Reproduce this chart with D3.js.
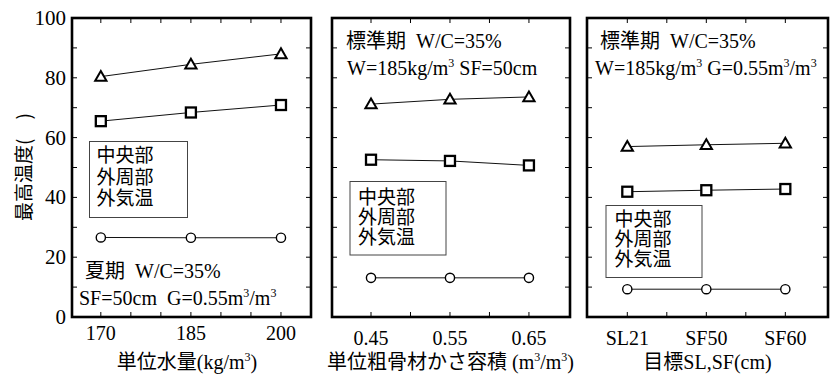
<!DOCTYPE html>
<html><head><meta charset="utf-8">
<script src="https://cdn.jsdelivr.net/npm/d3@7"></script>
<style>
body{margin:0;background:#fff}
.sf{font-family:"Liberation Serif","Times New Roman",Tinos,"DejaVu Serif",serif}
.cj{font-family:"Noto Sans CJK JP","Noto Sans CJK SC",sans-serif}
</style>
</head><body><svg id="c" width="835" height="374"></svg>
<script>
// ---------- data ----------
const seriesNames = ["中央部", "外周部", "外気温"];
const seriesSymbols = ["triangle", "square", "circle"];

// Panel 1: 単位水量
const p1X = [170, 185, 200];
const p1Center = [80.4, 84.5, 88.0];
const p1Outer = [65.5, 68.4, 70.9];
const p1Air = [26.6, 26.5, 26.5];
const p1MinorTicks = [170, 175, 180, 185, 190, 195, 200];
const p1TickLabels = ["170", "185", "200"];

// Panel 2: 単位粗骨材かさ容積
const p2X = [0.45, 0.55, 0.65];
const p2Center = [71.2, 72.8, 73.6];
const p2Outer = [52.6, 52.2, 50.7];
const p2Air = [13.1, 13.1, 13.1];
const p2MinorTicks = [0.45, 0.50, 0.55, 0.60, 0.65];
const p2TickLabels = ["0.45", "0.55", "0.65"];

// Panel 3: 目標SL,SF
const p3Categories = ["SL21", "SF50", "SF60"];
const p3Center = [57.0, 57.6, 58.1];
const p3Outer = [41.9, 42.4, 42.8];
const p3Air = [9.3, 9.3, 9.3];
const p3MinorTicks = [0, 0.5, 1, 1.5, 2];

const yTicksMajor = [0, 20, 40, 60, 80, 100];
const yTicksMinor = [10, 20, 30, 40, 50, 60, 70, 80, 90];
const yTitle = "最高温度(　)";

// rich text segments: [font, text, sup?]
const p1Title = [["c","単位水量"],["s","(kg/m"],["s","3",1],["s",")"]];
const p2Title = [["c","単位粗骨材かさ容積"],["s"," (m"],["s","3",1],["s","/m"],["s","3",1],["s",")"]];
const p3Title = [["c","目標"],["s","SL,SF(cm)"]];
const p1Note1 = [["c","夏期"],["s","\u00a0\u00a0W/C=35%"]];
const p1Note2 = [["s","SF=50cm\u00a0\u00a0G=0.55m"],["s","3",1],["s","/m"],["s","3",1]];
const p2Note1 = [["c","標準期"],["s","\u00a0\u00a0W/C=35%"]];
const p2Note2 = [["s","W=185kg/m"],["s","3",1],["s","\u00a0SF=50cm"]];
const p3Note1 = [["c","標準期"],["s","\u00a0\u00a0W/C=35%"]];
const p3Note2 = [["s","W=185kg/m"],["s","3",1],["s","\u00a0G=0.55m"],["s","3",1],["s","/m"],["s","3",1]];

// ---------- layout ----------
const yTop = 18, yBottom = 317;
const y = d3.scaleLinear().domain([0, 100]).range([yBottom, yTop]);

const panels = [
  { x0: 72, x1: 311, domain: [165.2, 205], xs: p1X, series: [p1Center, p1Outer, p1Air],
    minor: p1MinorTicks, labels: p1X.map((v, i) => [v, p1TickLabels[i]]), labelY: 340,
    title: p1Title, titleX: 187, notes: [[p1Note1, 85, 278], [p1Note2, 79, 305]],
    legend: { x: 89.5, y: 141.5, w: 98, h: 76, tx: 96.5, base: [162, 183.5, 205] }, yLabels: true },
  { x0: 332, x1: 570, domain: [0.4006, 0.702], xs: p2X, series: [p2Center, p2Outer, p2Air],
    minor: p2MinorTicks, labels: p2X.map((v, i) => [v, p2TickLabels[i]]), labelY: 345,
    title: p2Title, titleX: 450.5, notes: [[p2Note1, 346, 48], [p2Note2, 347, 75]],
    legend: { x: 350, y: 181.5, w: 96, h: 73.5, tx: 358, base: [203.5, 223.5, 243.5] } },
  { x0: 587, x1: 828, domain: [-0.51, 2.54], xs: p3Categories.map((c, i) => i), series: [p3Center, p3Outer, p3Air],
    minor: p3MinorTicks, labels: p3Categories.map((c, i) => [i, c]), labelY: 345,
    title: p3Title, titleX: 707.5, notes: [[p3Note1, 600, 48], [p3Note2, 595, 75]],
    legend: { x: 606, y: 205.5, w: 96, h: 72, tx: 614.5, base: [225.5, 245.5, 265.5] } }
];

const svg = d3.select("#c");

function rich(g, x, yy, segs, anchor, size) {
  const t = g.append("text").attr("x", x).attr("y", yy)
    .attr("text-anchor", anchor || "start").style("font-size", (size || 20) + "px").attr("fill", "#000");
  let raised = false;
  segs.forEach(s => {
    const ts = t.append("tspan").text(s[1]).attr("class", s[0] === "c" ? "cj" : "sf");
    if (s[2]) { ts.style("font-size", "12px").attr("dy", -8); raised = true; }
    else if (raised) { ts.attr("dy", 8); raised = false; }
  });
  return t;
}

const triSym = d3.symbol().type(d3.symbolTriangle).size(55);

panels.forEach(p => {
  const g = svg.append("g");
  const x = d3.scaleLinear().domain(p.domain).range([p.x0, p.x1]);

  const tl = 5;
  p.minor.forEach(v => {
    g.append("line").attr("x1", x(v)).attr("x2", x(v)).attr("y1", yBottom).attr("y2", yBottom - tl)
      .attr("stroke", "#000").attr("stroke-width", 1);
    g.append("line").attr("x1", x(v)).attr("x2", x(v)).attr("y1", yTop).attr("y2", yTop + tl)
      .attr("stroke", "#000").attr("stroke-width", 1);
  });
  yTicksMinor.forEach(v => {
    g.append("line").attr("x1", p.x0).attr("x2", p.x0 + tl).attr("y1", y(v)).attr("y2", y(v))
      .attr("stroke", "#000").attr("stroke-width", 1);
    g.append("line").attr("x1", p.x1).attr("x2", p.x1 - tl).attr("y1", y(v)).attr("y2", y(v))
      .attr("stroke", "#000").attr("stroke-width", 1);
  });

  g.append("rect").attr("x", p.x0).attr("y", yTop).attr("width", p.x1 - p.x0).attr("height", yBottom - yTop)
    .attr("fill", "none").attr("stroke", "#000").attr("stroke-width", 2.6);

  if (p.yLabels) {
    yTicksMajor.forEach(v => {
      g.append("text").attr("class", "sf").attr("x", 66).attr("y", y(v) + 7).attr("text-anchor", "end")
        .style("font-size", "21px").text(v);
    });
  }
  p.labels.forEach(([v, lab]) => {
    g.append("text").attr("class", "sf").attr("x", x(v)).attr("y", p.labelY).attr("text-anchor", "middle")
      .style("font-size", "20px").text(lab);
  });
  rich(g, p.titleX, 368.5, p.title, "middle", 20);
  p.notes.forEach(n => rich(g, n[1], n[2], n[0], "start", 20));

  const L = p.legend;
  g.append("rect").attr("x", L.x).attr("y", L.y).attr("width", L.w).attr("height", L.h)
    .attr("fill", "#fff").attr("stroke", "#444").attr("stroke-width", 1);
  seriesNames.forEach((nm, i) => {
    g.append("text").attr("class", "cj").attr("x", L.tx).attr("y", L.base[i])
      .style("font-size", "19px").text(nm);
  });

  p.series.forEach((vals, si) => {
    const pts = vals.map((v, i) => [x(p.xs[i]), y(v)]);
    g.append("path").attr("d", d3.line()(pts)).attr("fill", "none")
      .attr("stroke", "#111").attr("stroke-width", 1);
    const sym = seriesSymbols[si];
    pts.forEach(([px, py]) => {
      if (sym === "triangle") {
        g.append("path").attr("d", triSym()).attr("transform", `translate(${px},${py + 1})`)
          .attr("fill", "#fff").attr("stroke", "#000").attr("stroke-width", 2);
      } else if (sym === "square") {
        g.append("rect").attr("x", px - 5).attr("y", py - 5).attr("width", 10).attr("height", 10)
          .attr("fill", "#fff").attr("stroke", "#000").attr("stroke-width", 2.3);
      } else {
        g.append("circle").attr("cx", px).attr("cy", py).attr("r", 4.6)
          .attr("fill", "#fff").attr("stroke", "#000").attr("stroke-width", 1.4);
      }
    });
  });
});

svg.append("text").attr("class", "cj").attr("transform", "translate(31,167) rotate(-90)")
  .attr("text-anchor", "middle").style("font-size", "19px").text(yTitle);
</script>
</body></html>
